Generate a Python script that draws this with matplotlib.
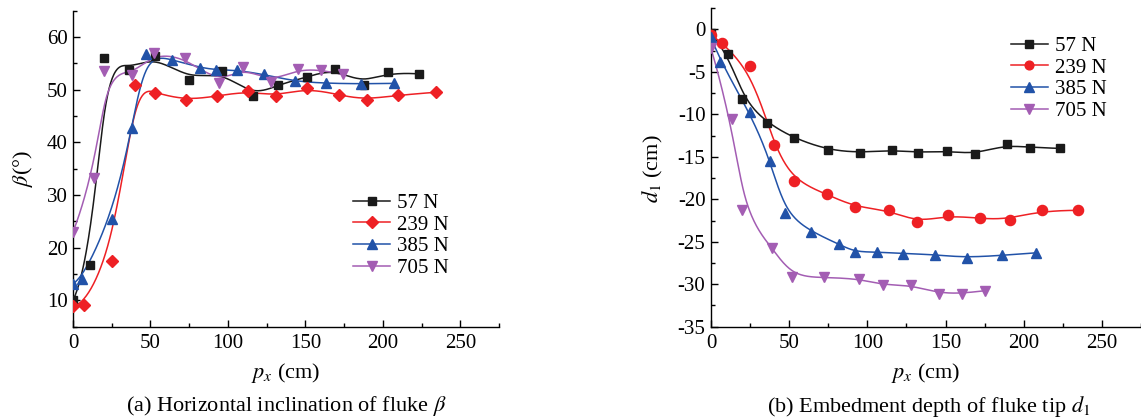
import matplotlib
matplotlib.use("Agg")
import matplotlib.pyplot as plt
import numpy as np
from matplotlib.ticker import MultipleLocator

plt.rcParams["font.family"] = ["Liberation Serif", "DejaVu Serif"]
plt.rcParams["mathtext.fontset"] = "stix"

LABELS = ["57 N", "239 N", "385 N", "705 N"]
COLORS = ["#1a1a1a", "#ee2024", "#2152a8", "#a35db3"]
MARKERS = ["s", "D", "^", "v"]
MARKERS_B = ["s", "o", "^", "v"]
MSIZE = [6.3, 6.3, 7.3, 7.3]

# (a) horizontal inclination beta
BETA_X = [
    [0, 11, 20, 36, 53, 75, 96, 116, 132, 151, 169, 188, 203, 223],
    [0, 7, 25, 40, 53, 73, 93, 113, 131, 151, 172, 190, 210, 234],
    [0, 6, 25, 38, 47, 64, 82, 92, 106, 123, 143, 163, 186, 207],
    [0, 13.5, 20, 38, 52, 72.5, 94, 110, 128, 145, 160, 174],
]
BETA_Y = [
    [10.0, 16.8, 56.0, 53.8, 56.4, 51.9, 53.5, 48.8, 50.9, 52.4, 54.0, 50.9, 53.4, 53.0],
    [8.9, 9.2, 17.5, 50.9, 49.4, 48.0, 48.8, 49.7, 48.8, 50.3, 49.0, 48.0, 49.0, 49.5],
    [13.2, 14.1, 25.4, 42.8, 56.8, 55.7, 54.2, 53.8, 53.7, 52.9, 51.6, 51.2, 51.1, 51.2],
    [23.0, 33.3, 53.6, 52.7, 56.9, 56.1, 51.2, 54.3, 51.4, 54.0, 53.8, 52.9],
]

# (b) embedment depth d1
D1_X = [
    [0, 11, 20, 36, 53, 75, 95.5, 116, 132.5, 151, 169, 189, 204, 223],
    [0, 7, 25, 40, 53, 74, 92, 114, 132, 151.5, 172, 191, 211.5, 235],
    [0, 6, 25, 38, 47.5, 64, 82, 92, 106, 123, 143, 163.5, 186, 208],
    [0, 13.3, 19.7, 39, 52, 72.5, 94.5, 110, 128, 146, 160.5, 175.5],
]
D1_Y = [
    [-0.4, -2.9, -8.2, -11.0, -12.8, -14.2, -14.5, -14.2, -14.5, -14.3, -14.7, -13.5, -13.9, -14.0],
    [-0.6, -1.6, -4.3, -13.6, -17.8, -19.4, -20.9, -21.3, -22.7, -21.9, -22.25, -22.4, -21.3, -21.3],
    [-0.9, -3.8, -9.7, -15.5, -21.6, -23.8, -25.3, -26.2, -26.2, -26.4, -26.5, -26.9, -26.6, -26.3],
    [-2.2, -10.6, -21.3, -25.7, -29.1, -29.2, -29.35, -30.1, -30.1, -31.1, -31.1, -30.75],
]


def bspline(x, y, n=500, k=3):
    # clamped cubic B-spline with the data points as control points
    pts = np.column_stack([x, y]).astype(float)
    m = len(pts)
    knots = np.concatenate([np.zeros(k), np.linspace(0, 1, m - k + 1), np.ones(k)])
    t = np.linspace(0, 1, n)
    t[-1] = 1 - 1e-10
    basis = np.zeros((n, len(knots) - 1))
    for i in range(len(knots) - 1):
        basis[:, i] = (knots[i] <= t) & (t < knots[i + 1])
    for d in range(1, k + 1):
        new = np.zeros((n, len(knots) - 1 - d))
        for i in range(len(knots) - 1 - d):
            a = knots[i + d] - knots[i]
            b = knots[i + d + 1] - knots[i + 1]
            left = (t - knots[i]) / a * basis[:, i] if a > 0 else 0
            right = (knots[i + d + 1] - t) / b * basis[:, i + 1] if b > 0 else 0
            new[:, i] = left + right
        basis = new
    curve = basis @ pts
    return curve[:, 0], curve[:, 1]


def style_axes(ax):
    for side in ("top", "right"):
        ax.spines[side].set_visible(False)
    for side in ("left", "bottom"):
        ax.spines[side].set_linewidth(1.0)
    ax.tick_params(which="both", direction="in", labelsize=15, width=1.0)
    ax.tick_params(which="major", length=5)
    ax.tick_params(which="minor", length=3)
    ax.tick_params(axis="x", pad=5)
    ax.tick_params(axis="y", pad=4)
    ax.set_xlim(0, 275)
    ax.xaxis.set_major_locator(MultipleLocator(50))
    ax.xaxis.set_minor_locator(MultipleLocator(25))


fig = plt.figure(figsize=(11.41, 4.19), dpi=100)
ax1 = fig.add_axes([0.064, 0.2203, 0.3734, 0.7542])
ax2 = fig.add_axes([0.6231, 0.2203, 0.3769, 0.760])

for i in range(4):
    cx, cy = bspline(BETA_X[i], BETA_Y[i])
    ax1.plot(cx, cy, color=COLORS[i], lw=1.1, zorder=2)
    ax1.plot(BETA_X[i], BETA_Y[i], ls="none", marker=MARKERS[i], ms=MSIZE[i],
             color=COLORS[i], zorder=3)
    ax1.plot([], [], color=COLORS[i], lw=1.1, marker=MARKERS[i], ms=MSIZE[i],
             label=LABELS[i])

    cx, cy = bspline(D1_X[i], D1_Y[i])
    ax2.plot(cx, cy, color=COLORS[i], lw=1.1, zorder=2)
    ax2.plot(D1_X[i], D1_Y[i], ls="none", marker=MARKERS_B[i], ms=MSIZE[i] + (1 if i == 1 else 0),
             color=COLORS[i], zorder=3)
    ax2.plot([], [], color=COLORS[i], lw=1.1, marker=MARKERS_B[i], ms=MSIZE[i],
             label=LABELS[i])

style_axes(ax1)
ax1.set_ylim(5, 65)
ax1.yaxis.set_major_locator(MultipleLocator(10))
ax1.yaxis.set_minor_locator(MultipleLocator(5))
ax1.set_yticks([10, 20, 30, 40, 50, 60])

style_axes(ax2)
ax2.set_ylim(-35, 2.5)
ax2.yaxis.set_major_locator(MultipleLocator(5))
ax2.yaxis.set_minor_locator(MultipleLocator(2.5))
ax2.set_yticks([-35, -30, -25, -20, -15, -10, -5, 0])
ax2.set_yticklabels(["-35", "-30", "-25", "-20", "-15", "-10", "-5", "0"])

leg_kw = dict(frameon=False, fontsize=15, handlelength=1.78, handletextpad=0.34,
              labelspacing=0.1, borderpad=0, borderaxespad=0, loc="upper left",
              bbox_transform=fig.transFigure)
ax1.legend(bbox_to_anchor=(0.3094, 0.5385), **leg_kw)
ax2.legend(bbox_to_anchor=(0.886, 0.913), **leg_kw)

fig.text(0.020, 0.597, r"$\beta$(°)", rotation=90, ha="center", va="center", fontsize=16)
fig.text(0.572, 0.597, r"$d_1$ (cm)", rotation=90, ha="center", va="center", fontsize=16)
fig.text(0.2506, 0.110, r"$p_x$ (cm)", ha="center", va="center", fontsize=16)
fig.text(0.8116, 0.110, r"$p_x$ (cm)", ha="center", va="center", fontsize=16)
fig.text(0.2506, 0.030, r"(a) Horizontal inclination of fluke $\beta$",
         ha="center", va="center", fontsize=16)
fig.text(0.8142, 0.030, r"(b) Embedment depth of fluke tip $d_1$",
         ha="center", va="center", fontsize=16)

fig.savefig("out.png", dpi=100, facecolor="white")
